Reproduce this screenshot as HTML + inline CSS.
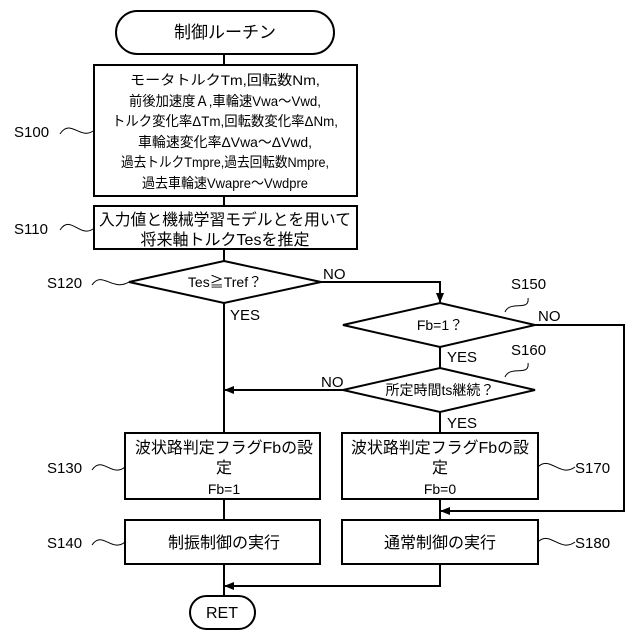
<!DOCTYPE html>
<html><head><meta charset="utf-8"><style>
html,body{margin:0;padding:0;background:#fff}
svg{display:block}
text{font-family:"Liberation Sans","Noto Sans CJK JP",sans-serif;fill:#000}
</style></head><body>
<svg width="640" height="640" viewBox="0 0 640 640" xmlns="http://www.w3.org/2000/svg">
<defs><marker id="a" markerWidth="10" markerHeight="10" refX="9" refY="5" orient="auto" markerUnits="userSpaceOnUse"><path d="M0,1 L10,5 L0,9 z" fill="#000"/></marker></defs>
<g fill="none" stroke="#000" stroke-width="2">
<rect x="116" y="11" width="218" height="43" rx="21.5" fill="#fff"/>
<line x1="224" y1="54" x2="224" y2="65"/>
<rect x="94" y="65" width="263" height="131"/>
<line x1="224" y1="196" x2="224" y2="206"/>
<rect x="94" y="206" width="263" height="43"/>
<line x1="224" y1="249" x2="224" y2="261"/>
<polygon points="224,261 321,282 224,303 129,282"/>
<line x1="224" y1="303" x2="224" y2="433"/>
<polyline points="321,282 440,282 440,302" marker-end="url(#a)"/>
<polygon points="440,303 535,325 440,347 343,325"/>
<line x1="440" y1="347" x2="440" y2="368"/>
<polygon points="440,368 535,390 440,412 343,390"/>
<line x1="343" y1="390" x2="225" y2="390" marker-end="url(#a)"/>
<line x1="440" y1="412" x2="440" y2="433"/>
<polyline points="535,325 624,325 624,511 441,511" marker-end="url(#a)"/>
<rect x="125" y="433" width="195" height="66"/>
<rect x="342" y="433" width="196" height="66"/>
<line x1="224" y1="499" x2="224" y2="520"/>
<line x1="440" y1="499" x2="440" y2="520"/>
<rect x="125" y="520" width="195" height="44"/>
<rect x="342" y="520" width="196" height="44"/>
<line x1="224" y1="564" x2="224" y2="596"/>
<polyline points="440,564 440,586 225,586" marker-end="url(#a)"/>
<rect x="190" y="596" width="65" height="33" rx="16.5"/>
</g>
<g fill="none" stroke="#000" stroke-width="1">
<path d="M60,134 C70,118 80,140 93,131"/>
<path d="M60,230 C70,214 80,238 93,229"/>
<path d="M92,285 C102,270 112,292 129,282"/>
<path d="M92,470 C102,455 112,478 125,467"/>
<path d="M92,545 C102,530 112,553 125,542"/>
<path d="M538,467 C550,455 560,478 575,467"/>
<path d="M538,542 C550,530 560,553 575,542"/>
<path d="M505,312 C510,300 530,312 528,298"/>
<path d="M505,377 C510,365 530,377 528,363"/>
</g>
<g font-size="15">
<text x="14" y="137">S100</text>
<text x="14" y="234">S110</text>
<text x="47" y="288">S120</text>
<text x="47" y="473">S130</text>
<text x="47" y="548">S140</text>
<text x="575" y="473">S170</text>
<text x="575" y="548">S180</text>
<text x="511" y="289">S150</text>
<text x="511" y="355">S160</text>
<text x="323" y="279">NO</text>
<text x="538" y="321">NO</text>
<text x="321" y="387">NO</text>
<text x="230" y="320">YES</text>
<text x="447" y="362">YES</text>
<text x="447" y="428">YES</text>
</g>
<g text-anchor="middle">
<text x="225" y="38" font-size="17">制御ルーチン</text>
<g font-size="14">
<text x="225" y="85" textLength="190" lengthAdjust="spacingAndGlyphs">モータトルクTm,回転数Nm,</text>
<text x="225" y="106" textLength="192" lengthAdjust="spacingAndGlyphs">前後加速度Ａ,車輪速Vwa～Vwd,</text>
<text x="225" y="126" textLength="226" lengthAdjust="spacingAndGlyphs">トルク変化率ΔTm,回転数変化率ΔNm,</text>
<text x="225" y="147" textLength="174" lengthAdjust="spacingAndGlyphs">車輪速変化率ΔVwa～ΔVwd,</text>
<text x="225" y="167" textLength="208" lengthAdjust="spacingAndGlyphs">過去トルクTmpre,過去回転数Nmpre,</text>
<text x="225" y="188" textLength="166" lengthAdjust="spacingAndGlyphs">過去車輪速Vwapre～Vwdpre</text>
</g>
<g font-size="16">
<text x="225" y="225" textLength="252" lengthAdjust="spacingAndGlyphs">入力値と機械学習モデルとを用いて</text>
<text x="225" y="245">将来軸トルクTesを推定</text>
<text x="224" y="453" textLength="178" lengthAdjust="spacingAndGlyphs">波状路判定フラグFbの設</text>
<text x="224" y="473">定</text>
<text x="224" y="494" font-size="14">Fb=1</text>
<text x="440" y="453" textLength="178" lengthAdjust="spacingAndGlyphs">波状路判定フラグFbの設</text>
<text x="440" y="473">定</text>
<text x="440" y="494" font-size="14">Fb=0</text>
<text x="224" y="548">制振制御の実行</text>
<text x="440" y="548">通常制御の実行</text>
<text x="222" y="618">RET</text>
</g>
<g font-size="14">
<text x="225" y="287">Tes≧Tref？</text>
<text x="440" y="330">Fb=1？</text>
<text x="440" y="395">所定時間ts継続？</text>
</g>
</g>
</svg>
</body></html>
